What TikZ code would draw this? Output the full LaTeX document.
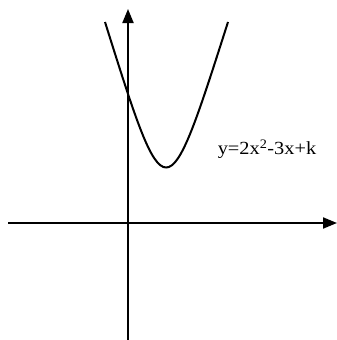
\documentclass[tikz,border=0pt]{standalone}
\usepackage{fontspec}
\setmainfont{Liberation Serif}
\usetikzlibrary{arrows.meta}
\tikzset{
  axis/.style={line width=2pt, -{Triangle[length=14pt,width=11pt]}},
  curve/.style={line width=2pt},
  lbl/.style={inner sep=0pt, font=\fontsize{18.5}{20}\selectfont}
}
\begin{document}
\begin{tikzpicture}[x=1pt,y=-1pt]
\useasboundingbox (0,0) rectangle (337,340);
\coordinate (xs) at (8,223);
\coordinate (xe) at (337,223);
\coordinate (ys) at (128,340);
\coordinate (ye) at (128,9);
\draw[axis] (xs) -- (xe);
\draw[axis] (ys) -- (ye);
\coordinate (pl) at (105,22);
\coordinate (pr) at (228,22);
\draw[curve] (pl) .. controls (166,216) and (166,216) .. (pr);
\node[lbl] (eq) at (267,149) {\scalebox{1.1}[1]{y=2x\textsuperscript{2}-3x+k}};
\end{tikzpicture}
\end{document}
